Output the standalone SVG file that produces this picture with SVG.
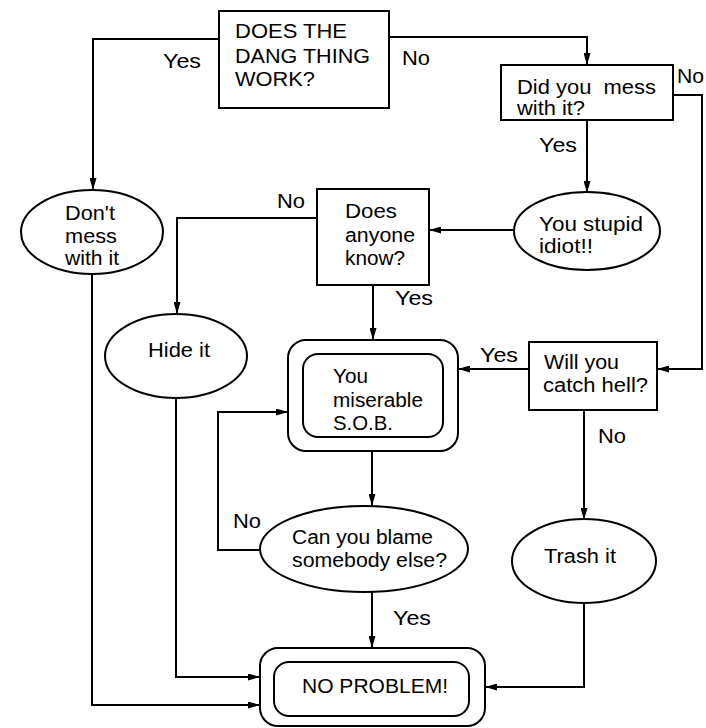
<svg xmlns="http://www.w3.org/2000/svg" width="706" height="728" viewBox="0 0 706 728">
<defs>
<style>
.n{fill:#fff;stroke:#000;stroke-width:2}
.c{fill:none;stroke:#000;stroke-width:2}
text{font-family:"Liberation Sans",Arial,sans-serif;font-size:20px;fill:#000}
</style>
<marker id="a" viewBox="0 0 12 7" refX="12" refY="3.5" markerWidth="12" markerHeight="7" markerUnits="userSpaceOnUse" orient="auto">
<path d="M0,0 L12,3.5 L0,7 z" fill="#000"/>
</marker>
</defs>
<rect width="706" height="728" fill="#fff"/>
<g id="connectors">
<path class="c" d="M219,39 H93 V190" marker-end="url(#a)"/>
<path class="c" d="M389,37 H587 V65" marker-end="url(#a)"/>
<path class="c" d="M587,120 V193" marker-end="url(#a)"/>
<path class="c" d="M673,95 H702 V369 H657" marker-end="url(#a)"/>
<path class="c" d="M513,230 H429" marker-end="url(#a)"/>
<path class="c" d="M317,218 H177 V314" marker-end="url(#a)"/>
<path class="c" d="M373,285 V340" marker-end="url(#a)"/>
<path class="c" d="M529,369 H458" marker-end="url(#a)"/>
<path class="c" d="M584,410 V520" marker-end="url(#a)"/>
<path class="c" d="M372,451 V506" marker-end="url(#a)"/>
<path class="c" d="M260,550 H218 V412 H288" marker-end="url(#a)"/>
<path class="c" d="M372,592 V648" marker-end="url(#a)"/>
<path class="c" d="M584,603 V687 H485" marker-end="url(#a)"/>
<path class="c" d="M176,398 V677 H260" marker-end="url(#a)"/>
<path class="c" d="M92,274 V705 H260" marker-end="url(#a)"/>
<text x="163" y="68" textLength="38" lengthAdjust="spacingAndGlyphs">Yes</text>
<text x="402" y="65" textLength="28" lengthAdjust="spacingAndGlyphs">No</text>
<text x="677" y="83" textLength="27" lengthAdjust="spacingAndGlyphs">No</text>
<text x="539" y="152" textLength="38" lengthAdjust="spacingAndGlyphs">Yes</text>
<text x="277" y="208" textLength="28" lengthAdjust="spacingAndGlyphs">No</text>
<text x="395" y="305" textLength="38" lengthAdjust="spacingAndGlyphs">Yes</text>
<text x="480" y="362" textLength="38" lengthAdjust="spacingAndGlyphs">Yes</text>
<text x="598" y="443" textLength="28" lengthAdjust="spacingAndGlyphs">No</text>
<text x="233" y="528" textLength="28" lengthAdjust="spacingAndGlyphs">No</text>
<text x="393" y="625" textLength="38" lengthAdjust="spacingAndGlyphs">Yes</text>
</g>
<g id="works">
<rect class="n" x="219" y="11" width="170" height="97"/>
<text x="235" y="38" textLength="112" lengthAdjust="spacingAndGlyphs">DOES THE</text>
<text x="235" y="63" textLength="135" lengthAdjust="spacingAndGlyphs">DANG THING</text>
<text x="235" y="86" textLength="80" lengthAdjust="spacingAndGlyphs">WORK?</text>
</g>
<g id="messed">
<rect class="n" x="501" y="65" width="172" height="55"/>
<text x="517" y="94" textLength="139" lengthAdjust="spacingAndGlyphs" style="white-space:pre">Did you  mess</text>
<text x="517" y="115" textLength="68" lengthAdjust="spacingAndGlyphs">with it?</text>
</g>
<g id="dontmess">
<ellipse class="n" cx="92" cy="232" rx="71" ry="42"/>
<text x="65" y="220" textLength="50" lengthAdjust="spacingAndGlyphs">Don't</text>
<text x="65" y="243" textLength="52" lengthAdjust="spacingAndGlyphs">mess</text>
<text x="65" y="265" textLength="54" lengthAdjust="spacingAndGlyphs">with it</text>
</g>
<g id="stupid">
<ellipse class="n" cx="587" cy="231" rx="73" ry="39"/>
<text x="539" y="231" textLength="104" lengthAdjust="spacingAndGlyphs">You stupid</text>
<text x="539" y="253" textLength="54" lengthAdjust="spacingAndGlyphs">idiot!!</text>
</g>
<g id="anyone">
<rect class="n" x="317" y="189" width="112" height="96"/>
<text x="345" y="218" textLength="52" lengthAdjust="spacingAndGlyphs">Does</text>
<text x="345" y="242" textLength="70" lengthAdjust="spacingAndGlyphs">anyone</text>
<text x="345" y="265" textLength="60" lengthAdjust="spacingAndGlyphs">know?</text>
</g>
<g id="hide">
<ellipse class="n" cx="176" cy="356" rx="71" ry="42"/>
<text x="148" y="357" textLength="62" lengthAdjust="spacingAndGlyphs">Hide it</text>
</g>
<g id="sob">
<rect class="n" x="288" y="340" width="170" height="111" rx="18"/>
<rect class="n" x="303" y="354" width="140" height="83" rx="15"/>
<text x="333" y="383" textLength="35" lengthAdjust="spacingAndGlyphs">You</text>
<text x="333" y="407" textLength="90" lengthAdjust="spacingAndGlyphs">miserable</text>
<text x="333" y="430" textLength="60" lengthAdjust="spacingAndGlyphs">S.O.B.</text>
</g>
<g id="catchhell">
<rect class="n" x="529" y="342" width="128" height="68"/>
<text x="544" y="369" textLength="75" lengthAdjust="spacingAndGlyphs">Will you</text>
<text x="543" y="392" textLength="105" lengthAdjust="spacingAndGlyphs">catch hell?</text>
</g>
<g id="blame">
<ellipse class="n" cx="364" cy="549" rx="104" ry="43"/>
<text x="292" y="544" textLength="141" lengthAdjust="spacingAndGlyphs">Can you blame</text>
<text x="292" y="567" textLength="155" lengthAdjust="spacingAndGlyphs">somebody else?</text>
</g>
<g id="trash">
<ellipse class="n" cx="584" cy="561" rx="72" ry="42"/>
<text x="544" y="563" textLength="72" lengthAdjust="spacingAndGlyphs">Trash it</text>
</g>
<g id="noproblem">
<rect class="n" x="260" y="648" width="225" height="78" rx="18"/>
<rect class="n" x="274" y="662" width="195" height="54" rx="15"/>
<text x="302" y="693" textLength="146" lengthAdjust="spacingAndGlyphs">NO PROBLEM!</text>
</g>
</svg>
